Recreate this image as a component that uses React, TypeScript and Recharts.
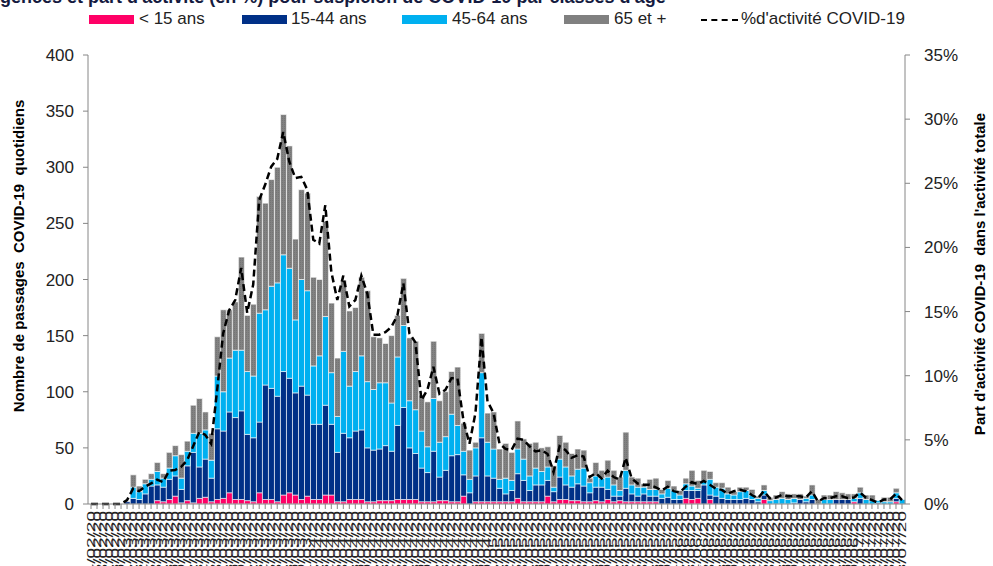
import React from "react";
import {
  ComposedChart,
  Bar,
  Line,
  XAxis,
  YAxis,
  Label,
} from "recharts";

// jours (24/02/20 -> 08/07/20)
const dates = [
  "24/02/20", "25/02/20", "26/02/20", "27/02/20", "28/02/20", "29/02/20",
  "01/03/20", "02/03/20", "03/03/20", "04/03/20", "05/03/20", "06/03/20", "07/03/20", "08/03/20", "09/03/20", "10/03/20",
  "11/03/20", "12/03/20", "13/03/20", "14/03/20", "15/03/20", "16/03/20", "17/03/20", "18/03/20", "19/03/20", "20/03/20",
  "21/03/20", "22/03/20", "23/03/20", "24/03/20", "25/03/20", "26/03/20", "27/03/20", "28/03/20", "29/03/20", "30/03/20", "31/03/20",
  "01/04/20", "02/04/20", "03/04/20", "04/04/20", "05/04/20", "06/04/20", "07/04/20", "08/04/20", "09/04/20", "10/04/20",
  "11/04/20", "12/04/20", "13/04/20", "14/04/20", "15/04/20", "16/04/20", "17/04/20", "18/04/20", "19/04/20", "20/04/20",
  "21/04/20", "22/04/20", "23/04/20", "24/04/20", "25/04/20", "26/04/20", "27/04/20", "28/04/20", "29/04/20", "30/04/20",
  "01/05/20", "02/05/20", "03/05/20", "04/05/20", "05/05/20", "06/05/20", "07/05/20", "08/05/20", "09/05/20", "10/05/20",
  "11/05/20", "12/05/20", "13/05/20", "14/05/20", "15/05/20", "16/05/20", "17/05/20", "18/05/20", "19/05/20", "20/05/20",
  "21/05/20", "22/05/20", "23/05/20", "24/05/20", "25/05/20", "26/05/20", "27/05/20", "28/05/20", "29/05/20", "30/05/20", "31/05/20",
  "01/06/20", "02/06/20", "03/06/20", "04/06/20", "05/06/20", "06/06/20", "07/06/20", "08/06/20", "09/06/20", "10/06/20",
  "11/06/20", "12/06/20", "13/06/20", "14/06/20", "15/06/20", "16/06/20", "17/06/20", "18/06/20", "19/06/20", "20/06/20",
  "21/06/20", "22/06/20", "23/06/20", "24/06/20", "25/06/20", "26/06/20", "27/06/20", "28/06/20", "29/06/20", "30/06/20",
  "01/07/20", "02/07/20", "03/07/20", "04/07/20", "05/07/20", "06/07/20", "07/07/20", "08/07/20",
];

// passages par classe d'age
const moins15 = [
  0, 0, 0, 0, 0, 0, 0, 0, 0, 0, 0, 3, 2, 4, 7, 1, 3, 1, 5, 6,
  2, 4, 5, 10, 4, 4, 3, 2, 10, 4, 4, 2, 8, 10, 8, 4, 7, 4, 4, 8,
  8, 2, 2, 4, 4, 4, 2, 2, 3, 3, 3, 4, 4, 4, 4, 2, 2, 2, 3, 3,
  2, 2, 7, 0, 2, 2, 2, 2, 2, 2, 2, 5, 2, 2, 2, 2, 7, 2, 4, 4,
  3, 3, 2, 2, 3, 2, 4, 2, 3, 2, 2, 2, 2, 2, 2, 0, 0, 0, 0, 5,
  4, 5, 0, 4, 0, 0, 0, 0, 0, 0, 0, 0, 4, 0, 0, 0, 0, 0, 0, 0,
  0, 0, 0, 0, 0, 0, 0, 2, 0, 0, 0, 0, 0, 0, 2, 0,
];
const ans15a44 = [
  0, 0, 0, 0, 0, 0, 2, 5, 4, 9, 16, 14, 13, 18, 18, 12, 31, 45, 28, 34,
  21, 63, 60, 72, 73, 79, 59, 57, 63, 102, 99, 94, 110, 102, 91, 101, 90, 67, 67, 80,
  63, 44, 61, 55, 61, 62, 48, 46, 46, 49, 44, 66, 82, 46, 41, 30, 26, 45, 21, 27,
  41, 42, 19, 10, 23, 57, 23, 21, 12, 7, 10, 22, 19, 10, 15, 15, 14, 9, 20, 13,
  12, 15, 14, 8, 12, 13, 9, 5, 4, 12, 7, 5, 7, 5, 5, 5, 6, 4, 4, 7,
  8, 7, 17, 4, 7, 5, 4, 4, 4, 5, 4, 2, 4, 0, 0, 0, 0, 1, 4, 2,
  4, 0, 0, 0, 4, 4, 4, 0, 5, 0, 0, 1, 0, 0, 3, 0,
];
const ans45a64 = [
  0, 0, 0, 0, 0, 0, 0, 10, 7, 9, 6, 12, 8, 10, 18, 10, 13, 17, 30, 26,
  16, 47, 35, 48, 60, 54, 56, 55, 97, 67, 91, 101, 104, 98, 65, 95, 93, 52, 61, 79,
  46, 32, 73, 46, 53, 66, 59, 54, 59, 56, 43, 61, 73, 42, 39, 33, 23, 47, 31, 30,
  37, 26, 21, 12, 25, 58, 30, 26, 8, 14, 9, 22, 19, 13, 15, 12, 12, 4, 16, 16,
  10, 13, 16, 9, 10, 8, 11, 10, 5, 16, 8, 8, 6, 6, 6, 4, 8, 8, 4, 6,
  4, 2, 3, 14, 8, 9, 5, 4, 7, 7, 4, 3, 4, 3, 4, 5, 4, 4, 0, 3,
  4, 0, 4, 4, 0, 0, 0, 3, 5, 4, 3, 2, 2, 2, 5, 4,
];
const ans65plus = [
  0, 0, 0, 0, 0, 0, 0, 11, 5, 4, 5, 8, 4, 14, 9, 21, 9, 25, 31, 16,
  24, 35, 73, 43, 43, 83, 50, 64, 104, 95, 95, 103, 125, 109, 72, 80, 87, 79, 68, 85,
  62, 52, 63, 67, 57, 70, 81, 47, 40, 35, 60, 37, 42, 56, 61, 32, 40, 51, 37, 40,
  38, 52, 25, 26, 5, 35, 26, 33, 27, 31, 25, 25, 18, 29, 23, 21, 18, 19, 21, 22,
  20, 18, 16, 4, 12, 7, 15, 13, 12, 34, 7, 8, 3, 9, 10, 4, 7, 4, 4, 5,
  14, 7, 10, 7, 4, 5, 6, 3, 4, 3, 5, 2, 5, 3, 4, 6, 5, 4, 5, 2,
  9, 4, 4, 4, 7, 6, 5, 4, 5, 4, 5, 0, 4, 4, 4, 0,
];

// part d'activite COVID-19 (%)
const partActivite = [
  0, 0, 0, 0, 0, 0, 0.3, 1.2, 1.0, 1.35, 1.6, 1.9, 1.7, 2.6, 2.65, 2.9, 3.4, 4.5, 5.6, 5.4,
  4.7, 8.9, 13.3, 15.1, 15.9, 18.4, 14.9, 17.1, 23.7, 24.9, 26.3, 26.9, 29.0, 26.7, 25.4, 25.5, 24.5, 20.6, 20.3, 23.3,
  18.1, 15.9, 17.8, 15.4, 15.9, 17.8, 16.4, 13.2, 13.2, 13.4, 13.8, 14.7, 17.2, 13.3, 12.6, 8.1, 8.9, 10.7, 8.6, 8.9,
  9.8, 9.8, 6.5, 4.7, 7.1, 13.0, 8.0, 7.1, 4.7, 4.3, 4.2, 5.1, 5.0, 4.5, 4.1, 4.2, 3.9, 2.5, 4.5, 4.2,
  3.6, 3.8, 3.7, 2.1, 2.4, 2.0, 2.6, 2.1, 1.9, 3.6, 2.0, 1.6, 1.5, 1.5, 1.3, 1.05, 1.35, 1.0, 0.9, 1.35,
  1.7, 1.55, 1.8, 1.5, 1.2, 1.1, 0.8, 1.0, 1.1, 1.0, 0.7, 0.45, 1.0, 0.45, 0.5, 0.7, 0.6, 0.6, 0.6, 0.5,
  1.0, 0.2, 0.45, 0.45, 0.6, 0.6, 0.45, 0.5, 0.9, 0.5, 0.3, 0.1, 0.35, 0.35, 0.8, 0.3,
];

const leftTicks = [0, 50, 100, 150, 200, 250, 300, 350, 400];
const rightTicks = [0, 5, 10, 15, 20, 25, 30, 35];

const data = dates.map((d, i) => ({
  date: d,
  moins15: moins15[i],
  a15: ans15a44[i],
  a45: ans45a64[i],
  a65: ans65plus[i],
  pct: partActivite[i],
}));

const FONT = "'Liberation Sans', Arial, sans-serif";
const AXIS_GREY = "#868686";

const DateTick = (props: any) => {
  const { x, y, payload } = props;
  return (
    <g transform={`translate(${x},${y})`}>
      <text
        textAnchor="end"
        dominantBaseline="central"
        transform="rotate(-90) scale(1,0.55)"
        fontSize={19}
        fontFamily={FONT}
        fill="#222"
      >
        {payload.value}
      </text>
    </g>
  );
};

const legendItems = [
  { label: "< 15 ans", color: "#FF0066", left: 89, textLeft: 139 },
  { label: "15-44 ans", color: "#003087", left: 242, textLeft: 291 },
  { label: "45-64 ans", color: "#00B0F0", left: 402, textLeft: 452 },
  { label: "65 et +", color: "#808080", left: 564, textLeft: 614 },
];

export default function App() {
  return (
    <div
      style={{
        position: "absolute",
        left: 0,
        top: 0,
        width: 993,
        height: 566,
        overflow: "hidden",
        background: "#fff",
        fontFamily: FONT,
      }}
    >
      <div
        style={{
          position: "absolute",
          top: -13,
          left: -18,
          fontSize: 18,
          fontWeight: "bold",
          whiteSpace: "nowrap",
          color: "#141a40",
        }}
      >
        urgences et part d'activité (en %) pour suspicion de COVID-19 par classes d'âge
      </div>

      {/* legende */}
      <div style={{ position: "absolute", top: 9, left: 0, width: 993, height: 22, fontSize: 17, color: "#222" }}>
        {legendItems.map((it) => (
          <React.Fragment key={it.label}>
            <div style={{ position: "absolute", left: it.left, top: 6, width: 45, height: 9, background: it.color }} />
            <div style={{ position: "absolute", left: it.textLeft, top: 0, whiteSpace: "nowrap" }}>{it.label}</div>
          </React.Fragment>
        ))}
        <div style={{ position: "absolute", left: 701, top: 10, width: 37, borderTop: "2.5px dashed #000" }} />
        <div style={{ position: "absolute", left: 741, top: 0, whiteSpace: "nowrap" }}>%d'activité COVID-19</div>
      </div>

      <ComposedChart
        width={993}
        height={620}
        data={data}
        margin={{ top: 55, right: 0, bottom: 0, left: 0 }}
        barCategoryGap="4%"
      >
        <defs>
          <pattern id="motif65" width="2" height="2" patternUnits="userSpaceOnUse">
            <rect width="2" height="2" fill="#828282" />
            <rect width="1" height="1" fill="#757575" />
          </pattern>
        </defs>
        <XAxis
          dataKey="date"
          interval={0}
          height={116}
          tick={<DateTick />}
          tickSize={5}
          tickMargin={2}
          axisLine={{ stroke: AXIS_GREY }}
          tickLine={{ stroke: AXIS_GREY }}
        />
        <YAxis
          yAxisId="left"
          width={88}
          domain={[0, 400]}
          ticks={leftTicks}
          tickSize={5}
          tickMargin={9}
          axisLine={{ stroke: AXIS_GREY }}
          tickLine={{ stroke: AXIS_GREY }}
          tick={{ fontSize: 17, fill: "#222", fontFamily: FONT }}
        >
          <Label
            content={() => (
              <text
                x={18}
                y={256}
                transform="rotate(-90 18 256)"
                textAnchor="middle"
                dominantBaseline="central"
                fontSize={15}
                fontWeight="bold"
                fontFamily={FONT}
                fill="#000"
                style={{ whiteSpace: "pre" }}
              >
                {"Nombre de passages  COVID-19  quotidiens"}
              </text>
            )}
          />
        </YAxis>
        <YAxis
          yAxisId="right"
          orientation="right"
          width={88}
          domain={[0, 35]}
          ticks={rightTicks}
          tickFormatter={(v: number) => `${v}%`}
          tickSize={5}
          tickMargin={14}
          axisLine={{ stroke: AXIS_GREY }}
          tickLine={{ stroke: AXIS_GREY }}
          tick={{ fontSize: 17, fill: "#222", fontFamily: FONT, textAnchor: "start" }}
        >
          <Label
            content={() => (
              <text
                x={979}
                y={274}
                transform="rotate(-90 979 274)"
                textAnchor="middle"
                dominantBaseline="central"
                fontSize={15}
                fontWeight="bold"
                fontFamily={FONT}
                fill="#000"
                style={{ whiteSpace: "pre" }}
              >
                {"Part d'activité COVID-19  dans l'activité totale"}
              </text>
            )}
          />
        </YAxis>
        <Bar yAxisId="left" dataKey="moins15" stackId="age" fill="#FF0066" stroke="#fff" strokeWidth={0.6} isAnimationActive={false} />
        <Bar yAxisId="left" dataKey="a15" stackId="age" fill="#003087" stroke="#fff" strokeWidth={0.6} isAnimationActive={false} />
        <Bar yAxisId="left" dataKey="a45" stackId="age" fill="#00B0F0" stroke="#fff" strokeWidth={0.6} isAnimationActive={false} />
        <Bar yAxisId="left" dataKey="a65" stackId="age" fill="url(#motif65)" stroke="#fff" strokeWidth={0.6} isAnimationActive={false} />
        <Line
          yAxisId="right"
          dataKey="pct"
          type="linear"
          stroke="#000"
          strokeWidth={2.5}
          strokeDasharray="7 4"
          dot={false}
          isAnimationActive={false}
        />
      </ComposedChart>
    </div>
  );
}
